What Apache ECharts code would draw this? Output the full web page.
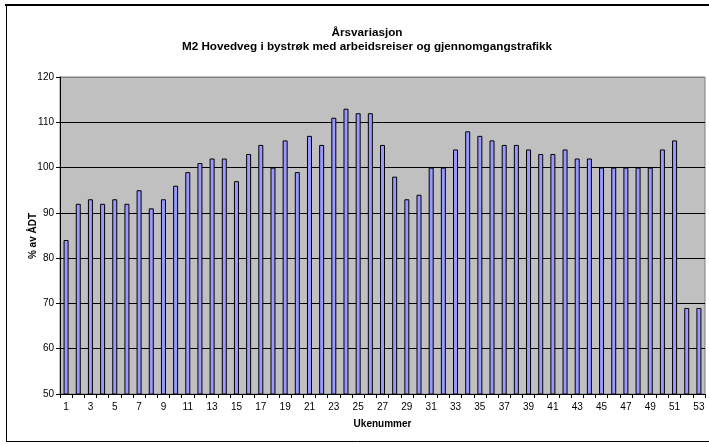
<!DOCTYPE html>
<html>
<head>
<meta charset="utf-8">
<script src="https://cdn.jsdelivr.net/npm/echarts@6/dist/echarts.min.js"></script>
<style>html,body{margin:0;padding:0;background:#fff}#c{width:709px;height:445px}</style>
</head>
<body>
<div id="c"></div>
<script>
const weeks = Array.from({length: 53}, (_, i) => String(i + 1));
const values = [84, 92, 93, 92, 93, 92, 95, 91, 93, 96, 99, 101, 102, 102, 97, 103, 105, 100, 106, 99,
  107, 105, 111, 113, 112, 112, 105, 98, 93, 94, 100, 100, 104, 108, 107, 106, 105, 105, 104, 103,
  103, 104, 102, 102, 100, 100, 100, 100, 100, 104, 106, 69, 69];
const titleText = 'Årsvariasjon';
const subtitleText = 'M2 Hovedveg i bystrøk med arbeidsreiser og gjennomgangstrafikk';
const xName = 'Ukenummer';
const yName = '% av ÅDT';

const chart = echarts.init(document.getElementById('c'));
const font = '"Liberation Sans", Arial, sans-serif';
chart.setOption({
  animation: false,
  textStyle: {fontFamily: font},
  title: {
    text: titleText,
    subtext: subtitleText,
    left: 362, top: 22, textAlign: 'center', itemGap: 1.5,
    textStyle: {fontSize: 11.7, fontWeight: 'bold', color: '#000', fontFamily: font},
    subtextStyle: {fontSize: 11.7, fontWeight: 'bold', color: '#000', fontFamily: font}
  },
  graphic: [
    {type: 'line', shape: {x1: 5, y1: 5, x2: 709, y2: 5}, style: {stroke: '#000', lineWidth: 2}},
    {type: 'line', shape: {x1: 6.5, y1: 5, x2: 6.5, y2: 441}, style: {stroke: '#000', lineWidth: 1}},
    {type: 'line', shape: {x1: 6, y1: 441.5, x2: 709, y2: 441.5}, style: {stroke: '#000', lineWidth: 1}},
    {type: 'text', x: 33, y: 236, rotation: Math.PI / 2, style: {text: yName, font: 'bold 10px ' + font, fill: '#000', align: 'center', verticalAlign: 'middle'}}
  ],
  grid: {
    left: 60, right: 4, top: 77, bottom: 51,
    show: true, backgroundColor: '#C0C0C0', borderColor: '#808080', borderWidth: 1
  },
  xAxis: {
    type: 'category', data: weeks,
    name: xName, nameLocation: 'middle', nameGap: 25,
    nameTextStyle: {fontSize: 10, fontWeight: 'bold', color: '#000'},
    axisLine: {lineStyle: {color: '#000', width: 1}},
    axisTick: {show: true, interval: 0, length: 4, lineStyle: {color: '#000'}},
    axisLabel: {interval: 1, fontSize: 10, color: '#000', margin: 8}
  },
  yAxis: {
    type: 'value', min: 50, max: 120, interval: 10,
    axisLine: {show: true, lineStyle: {color: '#000', width: 1}},
    axisTick: {show: true, length: 4, lineStyle: {color: '#000'}},
    axisLabel: {fontSize: 10, color: '#000', margin: 6},
    splitLine: {show: true, lineStyle: {color: ['#000', '#000', '#000', '#000', '#000', '#000', '#000', '#808080'], width: 1}}
  },
  series: [{
    type: 'bar', data: values, barWidth: 5,
    itemStyle: {color: '#9999FF', borderColor: '#000', borderWidth: 1}
  }]
});
</script>
</body>
</html>
